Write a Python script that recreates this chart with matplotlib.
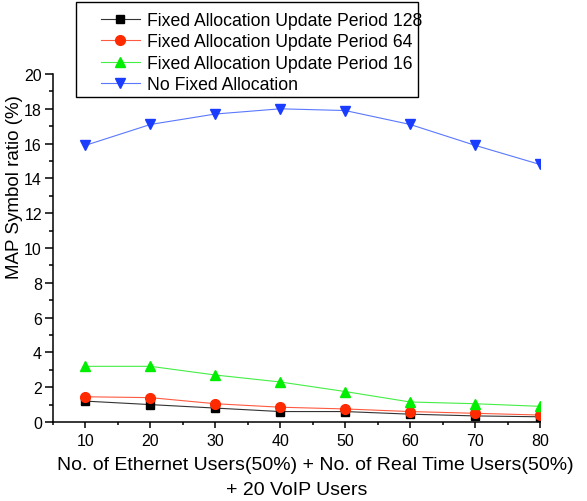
import matplotlib
matplotlib.use("Agg")
import matplotlib.pyplot as plt
from matplotlib.ticker import MultipleLocator
from matplotlib.patches import Rectangle

plt.rcParams['font.family'] = ['Liberation Sans', 'DejaVu Sans']

x = [10, 20, 30, 40, 50, 60, 70, 80]
period128 = [1.2, 1.0, 0.8, 0.6, 0.6, 0.45, 0.35, 0.3]
period64 = [1.45, 1.4, 1.05, 0.85, 0.75, 0.6, 0.5, 0.4]
period16 = [3.2, 3.2, 2.7, 2.3, 1.75, 1.15, 1.05, 0.9]
no_fixed = [15.9, 17.1, 17.7, 18.0, 17.9, 17.1, 15.9, 14.8]
labels = ["Fixed Allocation Update Period 128",
          "Fixed Allocation Update Period 64",
          "Fixed Allocation Update Period 16",
          "No Fixed Allocation"]

W, H = 587, 502
fig = plt.figure(figsize=(W/100, H/100), dpi=100)
ax = fig.add_axes([53/W, 1-423/H, (540-53)/W, (423-75)/H])

ax.plot(x, period128, color='#333333', lw=0.8, marker='s', ms=6, mfc='black', mec='black', label=labels[0])
ax.plot(x, period64, color='#ff5a40', lw=0.8, marker='o', ms=7, mfc='#ff2a00', mec='#ff2a00', label=labels[1])
ax.plot(x, period16, color='#44ee44', lw=0.8, marker='^', ms=7.5, mfc='#00ee00', mec='#00ee00', label=labels[2])
ax.plot(x, no_fixed, color='#5a78ff', lw=0.8, marker='v', ms=7.5, mfc='#1a3cff', mec='#1a3cff', label=labels[3])

ax.set_xlim(5, 80)
ax.set_ylim(0, 20)
ax.xaxis.set_major_locator(MultipleLocator(10))
ax.xaxis.set_minor_locator(MultipleLocator(5))
ax.yaxis.set_major_locator(MultipleLocator(2))
ax.yaxis.set_minor_locator(MultipleLocator(1))
ax.spines['top'].set_visible(False)
ax.spines['right'].set_visible(False)
for s in ('left', 'bottom'):
    ax.spines[s].set_linewidth(1.1)
ax.tick_params(which='major', direction='out', width=1.1, labelsize=11.5)
ax.tick_params(which='minor', direction='out', width=1.1)
ax.tick_params(axis='y', which='major', length=6, pad=2)
ax.tick_params(axis='y', which='minor', length=3)
ax.tick_params(axis='x', which='major', length=4, pad=4)
ax.tick_params(axis='x', which='minor', length=2.5)

ax.set_xlabel("No. of Ethernet Users(50%) + No. of Real Time Users(50%)", fontsize=14)
ax.xaxis.set_label_coords((315-53)/487, -(457-423)/348)
ax.xaxis.label.set_va('top')
ax.text((297-53)/487, -(482-423)/348, "+ 20 VoIP Users", transform=ax.transAxes,
        ha='center', va='top', fontsize=14)
ax.set_ylabel("MAP Symbol ratio (%)", fontsize=13.5)
ax.yaxis.set_label_coords((23-53)/487, (423-187)/348)

fig.patches.append(Rectangle((76/W, 1-98/H), (418-76)/W, (98-3)/H, transform=fig.transFigure,
                             fill=True, facecolor='white', edgecolor='black', lw=1.0, zorder=5))
leg = fig.legend(loc='upper left', bbox_to_anchor=(101/W, 1-13/H), fontsize=12.7,
                 frameon=False, handlelength=2.2, handletextpad=0.4, borderpad=0.0,
                 labelspacing=0.25, borderaxespad=0)
leg.set_zorder(6)

fig.savefig("out.png", dpi=100)
